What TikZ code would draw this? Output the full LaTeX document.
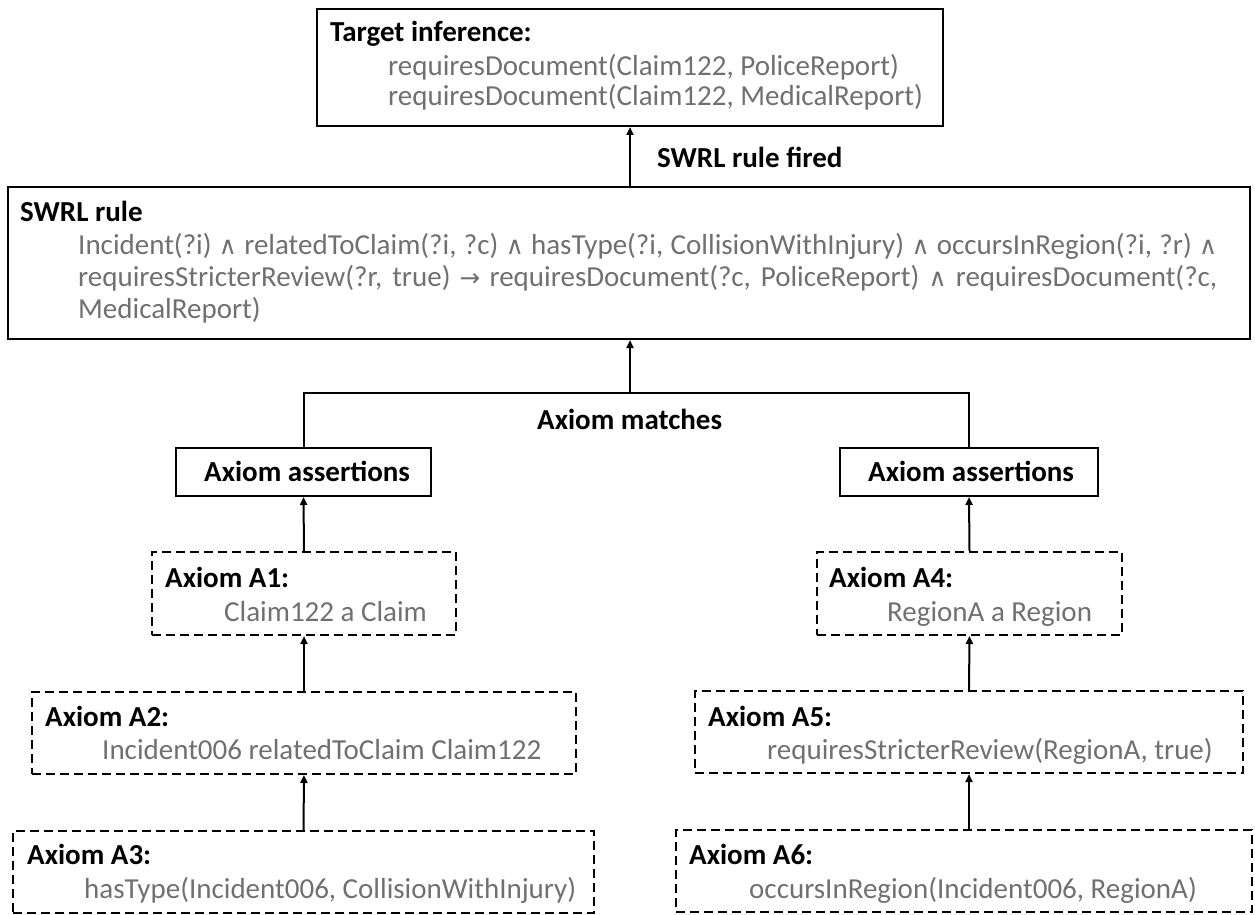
\documentclass[tikz,border=0pt]{standalone}
\usepackage{fontspec}
\setmainfont{Carlito}
\newfontfamily\symf[Scale=0.85]{DejaVu Sans}
\usetikzlibrary{arrows.meta}
\definecolor{txtgray}{RGB}{112,112,112}
\newcommand{\myand}{{\symf ∧}}
\newcommand{\myto}{{\symf →}}
\begin{document}
\begin{tikzpicture}[x=1pt,y=-1pt,
  box/.style={draw, line width=2pt, inner sep=0pt},
  dbox/.style={draw, line width=2pt, dash pattern=on 9pt off 5pt, inner sep=0pt},
  lab/.style={anchor=base west, inner sep=0pt, font=\fontsize{29}{33}\selectfont\bfseries},
  txt/.style={anchor=base west, inner sep=0pt, font=\fontsize{29}{33}\selectfont, text=txtgray},
  arr/.style={line width=2pt, -{Triangle[length=8pt,width=7pt]}},
  con/.style={line width=2pt}]
\useasboundingbox (0,0) rectangle (1255,915);
% boxes
\node[box, minimum width=626pt, minimum height=117pt] (target) at (630,67.5) {};
\node[box, minimum width=1242pt, minimum height=152pt] (swrl) at (629,263) {};
\node[box, minimum width=255pt, minimum height=48pt] (asL) at (303.5,472) {};
\node[box, minimum width=258pt, minimum height=48pt] (asR) at (969,472) {};
\node[dbox, minimum width=304pt, minimum height=83pt] (a1) at (304,593.5) {};
\node[dbox, minimum width=544pt, minimum height=82pt] (a2) at (304,733) {};
\node[dbox, minimum width=581pt, minimum height=82pt] (a3) at (303.5,872) {};
\node[dbox, minimum width=305pt, minimum height=83pt] (a4) at (969.5,593.5) {};
\node[dbox, minimum width=548pt, minimum height=82pt] (a5) at (969,732) {};
\node[dbox, minimum width=576pt, minimum height=82pt] (a6) at (964,871) {};
% texts
\node[lab] (tl) at (330,42) {Target inference:};
\node[txt] (t1) at (388,76) {requiresDocument(Claim122, PoliceReport)};
\node[txt] (t2) at (388,106) {requiresDocument(Claim122, MedicalReport)};
\node[lab] (fired) at (657,167) {SWRL rule fired};
\node[lab] (sl) at (20,221) {SWRL rule};
\node[txt] (s1) at (78,254) {\makebox[1139pt][s]{Incident(?i) \myand{} relatedToClaim(?i, ?c) \myand{} hasType(?i, CollisionWithInjury) \myand{} occursInRegion(?i, ?r) \myand}};
\node[txt] (s2) at (78,286) {\makebox[1139pt][s]{requiresStricterReview(?r, true) \myto{} requiresDocument(?c, PoliceReport) \myand{} requiresDocument(?c,}};
\node[txt] (s3) at (78,318) {MedicalReport)};
\node[lab] (match) at (537,429) {Axiom matches};
\node[lab] (asLt) at (204,481) {Axiom assertions};
\node[lab] (asRt) at (868,481) {Axiom assertions};
\node[lab] (a1l) at (165,587) {Axiom A1:};
\node[txt] (a1t) at (224,621) {Claim122 a Claim};
\node[lab] (a2l) at (45,726) {Axiom A2:};
\node[txt] (a2t) at (102,759) {Incident006 relatedToClaim Claim122};
\node[lab] (a3l) at (27,864) {Axiom A3:};
\node[txt] (a3t) at (84,898) {hasType(Incident006, CollisionWithInjury)};
\node[lab] (a4l) at (829,587) {Axiom A4:};
\node[txt] (a4t) at (887,621) {RegionA a Region};
\node[lab] (a5l) at (708,726) {Axiom A5:};
\node[txt] (a5t) at (767,759) {requiresStricterReview(RegionA, true)};
\node[lab] (a6l) at (689,864) {Axiom A6:};
\node[txt] (a6t) at (749,898) {occursInRegion(Incident006, RegionA)};
% connectors
\coordinate (j) at (630,393);
\draw[arr] (swrl.north -| target.south) -- (target.south);
\draw[arr] (j) -- (swrl.south -| j);
\draw[con] (asL.north) -- (asL.north |- j) -- (asR.north |- j) -- (asR.north);
\draw[arr] (a1.north) -- (asL.south);
\draw[arr] (a2.north) -- (a1.south);
\draw[arr] (a3.north) -- (a2.south);
\draw[arr] (a4.north) -- (asR.south);
\draw[arr] (a5.north) -- (a4.south);
\draw[arr] (a6.north -| a5.north) -- (a5.south);
\end{tikzpicture}
\end{document}
